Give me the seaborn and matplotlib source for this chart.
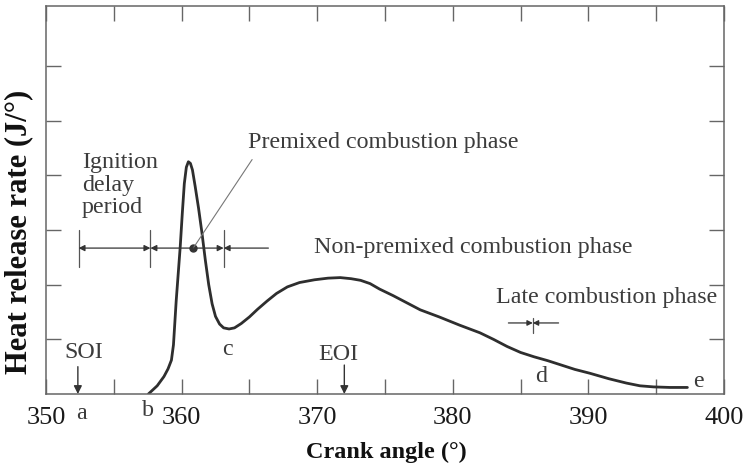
import matplotlib
matplotlib.use("Agg")
import matplotlib.pyplot as plt
import seaborn as sns
import numpy as np
import pandas as pd

# ---- data ----
crank_angle = [357.55, 358.2, 358.7, 359.0, 359.25, 359.4, 359.5, 359.6, 359.75, 359.9,
               360.05, 360.2, 360.35, 360.5, 360.65, 360.8, 361.0, 361.25, 361.5, 361.75,
               362.0, 362.25, 362.5, 362.8, 363.1, 363.5, 363.9, 364.4, 365.0, 365.6,
               366.3, 367.0, 367.8, 368.7, 369.8, 370.8, 371.7, 372.5, 373.2, 373.9,
               374.6, 375.6, 376.6, 377.6, 379.0, 380.5, 382.0, 383.0, 384.0, 385.0,
               386.0, 387.0, 388.0, 389.0, 390.1, 391.5, 392.8, 393.8, 394.8, 396.0, 397.3]
heat_release = [0.0, 0.15, 0.32, 0.46, 0.62, 0.9, 1.3, 1.7, 2.2, 2.7,
                3.3, 3.85, 4.15, 4.25, 4.22, 4.1, 3.8, 3.4, 2.95, 2.45,
                2.0, 1.65, 1.42, 1.28, 1.21, 1.19, 1.21, 1.29, 1.41, 1.55,
                1.7, 1.84, 1.96, 2.04, 2.09, 2.12, 2.13, 2.11, 2.08, 2.02,
                1.92, 1.80, 1.67, 1.54, 1.41, 1.26, 1.12, 1.0, 0.87, 0.76,
                0.68, 0.61, 0.53, 0.45, 0.38, 0.28, 0.20, 0.15, 0.13, 0.12, 0.12]
x_major_ticks = [350, 360, 370, 380, 390, 400]
x_minor_ticks = [355, 365, 375, 385, 395]
y_ticks = [1, 2, 3, 4, 5, 6]

df = pd.DataFrame({"Crank angle": crank_angle, "HRR": heat_release})

sns.set_theme(style="white")
plt.rcParams['font.family'] = ['Liberation Serif', 'DejaVu Serif']

fig = plt.figure(figsize=(7.5, 4.72), dpi=100)
ax = fig.add_axes([46/750, 1-394/472, 678/750, 388/472])

TXT = "#3c3c3c"
sns.lineplot(data=df, x="Crank angle", y="HRR", ax=ax, color="#2e2e2e",
             linewidth=2.0, sort=False, estimator=None)

ax.set_xlim(350, 400)
ax.set_ylim(0, 7.1)
ax.set_xticks(x_major_ticks)
ax.set_xticks(x_minor_ticks, minor=True)
ax.set_yticks(y_ticks)
ax.set_yticklabels([])
ax.tick_params(axis='both', which='both', direction='in', length=11, width=1.0,
               color="#666666", top=True, right=True, bottom=True, left=True)
ax.tick_params(axis='x', which='major', labelsize=19, pad=9, labelcolor="#1a1a1a")
for s in ax.spines.values():
    s.set_color("#666666")
    s.set_linewidth(1.1)
    s.set_visible(True)
ax.grid(False)

ax.set_xlabel("Crank angle (°)", fontsize=17.5, fontweight='bold', color="#111111")
ax.set_ylabel("Heat release rate (J/°)", fontsize=22, fontweight='bold', color="#111111")
ax.xaxis.set_label_coords(0.502, -0.122)
ax.yaxis.set_label_coords(-0.019, 0.419)

FS = 17.3
# annotations
ax.text(352.63, 3.82, "Ignition\ndelay\nperiod", fontsize=FS, color=TXT, ha='left', va='center',
        linespacing=1.08)
ax.text(364.9, 4.6, "Premixed combustion phase", fontsize=FS, color=TXT, ha='left', va='center')
ax.text(369.8, 2.68, "Non-premixed combustion phase", fontsize=FS, color=TXT, ha='left', va='center')
ax.text(383.2, 1.76, "Late combustion phase", fontsize=FS, color=TXT, ha='left', va='center')
ax.text(352.8, 0.76, "SOI", fontsize=FS, color=TXT, ha='center', va='center')
ax.text(371.55, 0.72, "EOI", fontsize=FS, color=TXT, ha='center', va='center')
ax.text(363.4, 0.81, "c", fontsize=FS, color=TXT, ha='center', va='center')
ax.text(386.5, 0.32, "d", fontsize=FS, color=TXT, ha='center', va='center')
ax.text(398.1, 0.23, "e", fontsize=FS, color=TXT, ha='center', va='center')
trans = ax.get_xaxis_transform()
ax.text(352.65, -0.05, "a", fontsize=FS, color=TXT, ha='center', va='center', transform=trans)
ax.text(357.55, -0.042, "b", fontsize=FS, color=TXT, ha='center', va='center', transform=trans)

# SOI / EOI arrows
arr = dict(arrowstyle='-|>', color="#333333", lw=1.0, mutation_scale=12, shrinkA=0, shrinkB=0)
ax.annotate("", xy=(352.35, 0.0), xytext=(352.35, 0.5), arrowprops=arr)
ax.annotate("", xy=(372.0, 0.0), xytext=(372.0, 0.53), arrowprops=arr)

# dimension lines
ydim = 2.67
for xv in [352.4, 357.7, 363.1]:
    ax.plot([xv, xv], [2.33, 3.0], color="#555555", lw=0.9)
darr = dict(arrowstyle='<|-|>', color="#333333", lw=0.9, mutation_scale=9, shrinkA=0, shrinkB=0)
ax.annotate("", xy=(357.7, ydim), xytext=(352.4, ydim), arrowprops=darr)
ax.annotate("", xy=(363.1, ydim), xytext=(357.7, ydim), arrowprops=darr)
ax.annotate("", xy=(363.1, ydim), xytext=(366.4, ydim),
            arrowprops=dict(arrowstyle='-|>', color="#333333", lw=0.9, mutation_scale=9,
                            shrinkA=0, shrinkB=0))
ax.plot([360.86], [ydim], marker='o', markersize=5, color="#333333")
ax.plot([360.86, 365.2], [ydim, 4.29], color="#777777", lw=0.8)

# late combustion marker
ax.plot([385.9, 385.9], [1.12, 1.39], color="#555555", lw=0.9)
sarr = dict(arrowstyle='-|>', color="#333333", lw=0.9, mutation_scale=8, shrinkA=0, shrinkB=0)
ax.annotate("", xy=(385.9, 1.30), xytext=(384.1, 1.30), arrowprops=sarr)
ax.annotate("", xy=(385.9, 1.30), xytext=(387.8, 1.30), arrowprops=sarr)

fig.savefig("out.png", dpi=100)
